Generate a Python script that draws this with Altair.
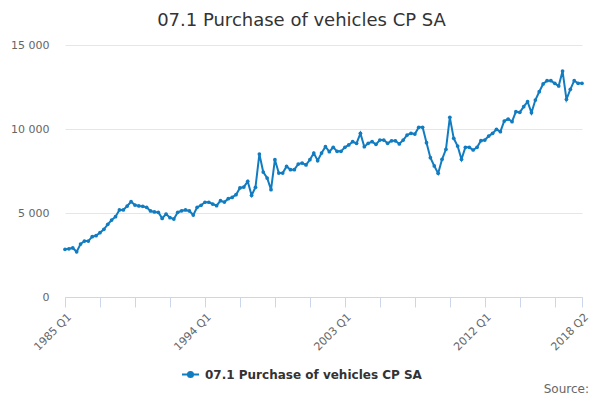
import altair as alt
import pandas as pd

series_name = "07.1 Purchase of vehicles CP SA"
line_color = "#127cc1"

start_year = 1985
n_quarters = 134
periods = [f"{start_year + i // 4} Q{i % 4 + 1}" for i in range(n_quarters)]

values = [
    2840, 2870, 2920, 2690,
    3150, 3330, 3330, 3590, 3650, 3830, 4030, 4325, 4580, 4780, 5180, 5180, 5415,
    5670,
    5475, 5420, 5400, 5340, 5120, 5060, 5040, 4680, 4940, 4720, 4640, 5040, 5130, 5180, 5120, 4880,
    5340, 5460, 5640, 5640, 5535, 5435, 5730, 5650, 5850, 5930, 6090, 6490, 6545, 6885, 6050, 6530,
    8510, 7440, 7080, 6390, 8170, 7380, 7380, 7775, 7580, 7580, 7915, 7975, 7860, 8170, 8570, 8115, 8570,
    8950, 8650, 8910, 8670, 8670, 8910, 9050, 9245, 9145, 9740, 8945, 9145, 9245, 9085, 9345, 9345,
    9145, 9300, 9300, 9110, 9345, 9640, 9740, 9700, 10100, 10100, 9185, 8290, 7800, 7360, 8195, 8790,
    10695, 9445,
    8985, 8195, 8910, 8910, 8750, 8910, 9305, 9345, 9580, 9740, 9980, 9840, 10475, 10595, 10435,
    11030, 10990, 11330, 11625, 10970, 11725, 12220, 12680, 12875, 12875, 12720, 12560, 13450,
    11765, 12360, 12875, 12720, 12720,
]

tick_positions = list(range(0, 127, 9)) + [133]
labelled_periods = ["1985 Q1", "1994 Q1", "2003 Q1", "2012 Q1", "2018 Q2"]
y_ticks = [0, 5000, 10000, 15000]

df = pd.DataFrame({
    "idx": list(range(n_quarters)),
    "period": periods,
    "value": values,
    "series": [series_name] * n_quarters,
})

label_expr = ""
for lab in labelled_periods:
    label_expr += f"datum.value == {periods.index(lab)} ? '{lab}' : "
label_expr += "''"

legend_path = "M-1,0L1,0M-0.3,0A0.3,0.3,0,1,1,0.3,0A0.3,0.3,0,1,1,-0.3,0Z"

line = alt.Chart(df).mark_line(
    strokeWidth=2,
    point=alt.OverlayMarkDef(filled=True, size=14, color=line_color),
).encode(
    x=alt.X("idx:Q", title=None,
            scale=alt.Scale(domain=[0, n_quarters - 1], nice=False, zero=False),
            axis=alt.Axis(values=tick_positions, labelExpr=label_expr, labelAngle=-45,
                          grid=False, tickSize=10, tickColor="#ccd6eb", domainColor="#ccd6eb",
                          labelColor="#666666", labelFontSize=11, labelOverlap=False,
                          labelFlush=False, labelBound=False, labelPadding=4)),
    y=alt.Y("value:Q", title=None,
            scale=alt.Scale(domain=[0, 15000], nice=False),
            axis=alt.Axis(values=y_ticks, labelExpr="replace(format(datum.value, ','), ',', ' ')",
                          domain=False, ticks=False, grid=True, gridColor="#e6e6e6",
                          labelColor="#666666", labelFontSize=11, labelPadding=16)),
    color=alt.Color("series:N", scale=alt.Scale(domain=[series_name], range=[line_color]),
                    legend=alt.Legend(title=None, orient="none", legendX=116, legendY=320,
                                      symbolType=legend_path, symbolSize=289,
                                      symbolStrokeWidth=2, symbolStrokeColor=line_color,
                                      symbolFillColor=line_color,
                                      labelFontSize=12, labelFontWeight="bold",
                                      labelColor="#333333", labelOffset=5, labelLimit=0,
                                      padding=0)),
    tooltip=["period:N", "value:Q"],
)

source = alt.Chart(pd.DataFrame({"t": ["Source:"]})).mark_text(
    align="right", baseline="middle", fontSize=12, color="#666666"
).encode(text="t:N", x=alt.value(524), y=alt.value(344))

chart = alt.layer(line, source).properties(
    width=517,
    height=252,
    title=alt.TitleParams(series_name, fontSize=18, fontWeight="normal", color="#333333",
                          anchor="middle", dx=-22, offset=9),
    autosize=alt.AutoSizeParams(type="none"),
    padding={"left": 57, "top": 37, "right": 10, "bottom": 100},
).configure(font="DejaVu Sans").configure_view(stroke=None)

chart.save("out.html", embed_options={"renderer": "svg", "actions": False})
